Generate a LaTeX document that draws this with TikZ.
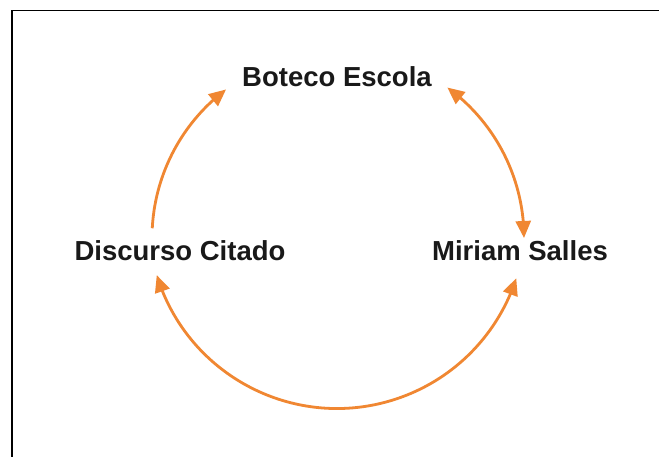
\documentclass[tikz,border=0pt]{standalone}
\usepackage{fontspec}
\setmainfont{Liberation Sans}
\usetikzlibrary{arrows.meta,bending}
\definecolor{arroworange}{RGB}{240,135,50}
\begin{document}
\begin{tikzpicture}[x=1pt,y=1pt,
  label/.style={font=\fontsize{27.5}{32}\selectfont\bfseries, text=black!90, inner sep=0pt},
  link/.style={draw=arroworange, line width=2.8pt, -{Triangle[length=17pt,width=15pt,flex]}},
  twolink/.style={draw=arroworange, line width=2.8pt, {Triangle[length=17pt,width=15pt,flex]}-{Triangle[length=17pt,width=15pt,flex]}},
  frame/.style={draw=black, line width=1.5pt}]
\useasboundingbox (0,0) rectangle (659,457);
\fill[white] (0,0) rectangle (659,457);
% frame
\draw[frame] (12,0) -- (12,446.5) -- (659,446.5);
% nodes
\node[label] (boteco) at (337,380) {Boteco Escola};
\node[label] (discurso) at (180,206) {Discurso Citado};
\node[label] (miriam) at (520,206) {Miriam Salles};
% arc start points
\coordinate (leftstart) at ([shift={(338,219)}]177:186);
\coordinate (rightstart) at ([shift={(338,219)}]54:186);
\coordinate (bottomstart) at ([shift={(337,237)}]197:188.5);
% connectors
\draw[link] (leftstart) arc[start angle=177, end angle=127, radius=186];
\draw[twolink] (rightstart) arc[start angle=54, end angle=0, radius=186];
\draw[twolink] (bottomstart) arc[start angle=197, end angle=342, radius=188.5];
\end{tikzpicture}
\end{document}
